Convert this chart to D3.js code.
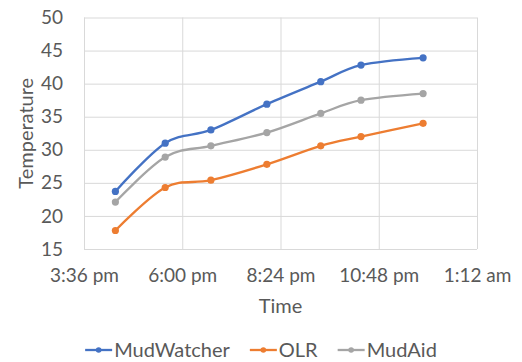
<!DOCTYPE html>
<html>
<head>
<meta charset="utf-8">
<script src="https://cdn.jsdelivr.net/npm/d3@7"></script>
<style>
  html, body { margin: 0; padding: 0; background: #fff; }
  svg { display: block; }
  text { font-family: "Lato", "Liberation Sans", sans-serif; fill: #595959; }
</style>
</head>
<body>
<svg id="chart" width="522" height="362"></svg>
<script>
// Readings taken over one evening (clock times, next-day after midnight)
const times = ["16:22", "17:35", "18:42", "20:04", "21:23", "22:22", "23:53"];
const mudWatcher = [23.7, 31.0, 33.0, 36.9, 40.3, 42.8, 43.9];
const olr        = [17.8, 24.3, 25.4, 27.8, 30.6, 32.0, 34.0];
const mudAid     = [22.1, 28.9, 30.6, 32.6, 35.5, 37.5, 38.5];

const seriesNames  = ["MudWatcher", "OLR", "MudAid"];
const seriesColors = ["#4472C4", "#ED7D31", "#A5A5A5"];

const xTickTimes = ["15:36", "18:00", "20:24", "22:48", "01:12"];
const yTicks = [15, 20, 25, 30, 35, 40, 45, 50];

// Convert "HH:MM" to a Date on the evening's day; early-morning times roll to the next day
const parseClock = s => {
  const [h, m] = s.split(":").map(Number);
  const d = new Date(2020, 0, 1, h, m);
  if (h < 12) d.setDate(d.getDate() + 1);
  return d;
};

const W = 522, H = 362;
const plot = { left: 84, right: 477, top: 17.5, bottom: 249 };

const svg = d3.select("#chart");

const xTicks = xTickTimes.map(parseClock);
const x = d3.scaleTime()
  .domain([xTicks[0], xTicks[xTicks.length - 1]])
  .range([plot.left, plot.right]);
const y = d3.scaleLinear()
  .domain([15, 50])
  .range([plot.bottom, plot.top]);

const fmt = d => d3.timeFormat("%-I:%M %p")(d).toLowerCase();

// Horizontal gridlines and y labels
const yAxis = svg.append("g")
  .attr("transform", `translate(${plot.left},0)`)
  .call(d3.axisLeft(y).tickValues(yTicks).tickSize(-(plot.right - plot.left)).tickPadding(21));
yAxis.select(".domain").remove();
yAxis.selectAll(".tick line").attr("stroke", "#d9d9d9").attr("stroke-width", 1);
yAxis.selectAll(".tick text").attr("font-size", 19).attr("fill", "#595959")
  .attr("font-family", "Lato, 'Liberation Sans', sans-serif");

// Vertical gridlines and time labels
const xAxis = svg.append("g")
  .attr("transform", `translate(0,${plot.bottom})`)
  .call(d3.axisBottom(x).tickValues(xTicks).tickFormat(fmt)
    .tickSize(-(plot.bottom - plot.top)).tickPadding(20));
xAxis.select(".domain").remove();
xAxis.selectAll(".tick line").attr("stroke", "#d9d9d9").attr("stroke-width", 1);
xAxis.selectAll(".tick text").attr("font-size", 19).attr("fill", "#595959")
  .attr("font-family", "Lato, 'Liberation Sans', sans-serif");

// Axis titles
svg.append("text")
  .attr("transform", `translate(33,${(plot.top + plot.bottom) / 2}) rotate(-90)`)
  .attr("text-anchor", "middle")
  .attr("font-size", 20)
  .text("Temperature");
svg.append("text")
  .attr("x", (plot.left + plot.right) / 2)
  .attr("y", 313)
  .attr("text-anchor", "middle")
  .attr("font-size", 20)
  .text("Time");

// Smoothed series lines with markers
const dates = times.map(parseClock);
const allSeries = [mudWatcher, olr, mudAid];
const line = d3.line()
  .x((d, i) => x(dates[i]))
  .y(d => y(d))
  .curve(d3.curveCatmullRom.alpha(0));

allSeries.forEach((vals, k) => {
  const g = svg.append("g");
  g.append("path")
    .datum(vals)
    .attr("d", line)
    .attr("fill", "none")
    .attr("stroke", seriesColors[k])
    .attr("stroke-width", 2.3)
    .attr("stroke-linecap", "round");
  g.selectAll("circle")
    .data(vals)
    .join("circle")
    .attr("cx", (d, i) => x(dates[i]))
    .attr("cy", d => y(d))
    .attr("r", 3.6)
    .attr("fill", seriesColors[k]);
});

// Legend, centred beneath the chart
const legend = svg.append("g");
const symW = 27, symGap = 2, itemGap = 20, legY = 350;
let cursor = 0;
seriesNames.forEach((name, k) => {
  const item = legend.append("g");
  item.append("line")
    .attr("x1", 0).attr("x2", symW)
    .attr("y1", 0).attr("y2", 0)
    .attr("stroke", seriesColors[k]).attr("stroke-width", 2.3);
  item.append("circle")
    .attr("cx", symW / 2).attr("cy", 0).attr("r", 2.8)
    .attr("fill", seriesColors[k]);
  const t = item.append("text")
    .attr("x", symW + symGap).attr("y", 0)
    .attr("dy", "0.35em")
    .attr("font-size", 20)
    .text(name);
  const w = symW + symGap + t.node().getComputedTextLength();
  item.attr("transform", `translate(${cursor},${legY})`);
  cursor += w + itemGap;
});
const total = cursor - itemGap;
legend.attr("transform", `translate(${(W - total) / 2},0)`);
</script>
</body>
</html>
